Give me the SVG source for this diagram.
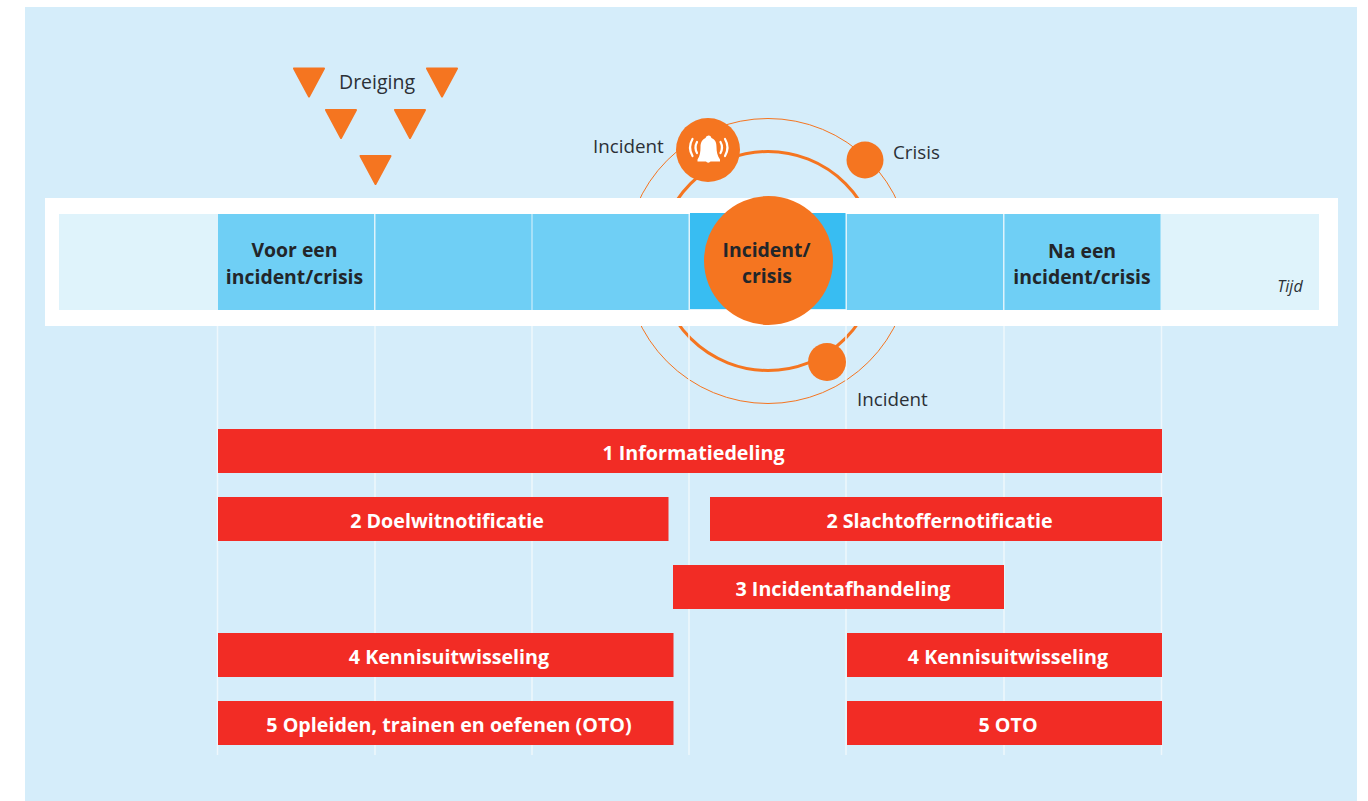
<svg xmlns="http://www.w3.org/2000/svg" width="1368" height="801" viewBox="0 0 1368 801">
<style>
text{font-family:"Open Sans","Noto Sans","Liberation Sans",sans-serif}
.lbl{font-size:18.800px;fill:#2b3036}
.hd{font-size:19.400px;font-weight:700;fill:#22262a;text-anchor:middle}
.bar{fill:#f22c25}
.bt{font-size:19.700px;font-weight:700;fill:#fff;text-anchor:middle}
.grid{stroke:#eef7fc;stroke-width:1.5;fill:none}
.tri{fill:#f57520;stroke:#f57520;stroke-width:2;stroke-linejoin:round}
.dot{fill:#f57520}
.cell{fill:#6fcff5}
</style>
<rect width="1368" height="801" fill="#fff"/>
<rect x="25" y="7" width="1332" height="794" fill="#d5edfa"/>
<g id="connectors" fill="none" stroke="#f57520">
<circle cx="768" cy="261" r="142.500" stroke-width="1"/>
<circle cx="768" cy="261" r="109.500" stroke-width="3"/>
</g>
<g id="timeline">
<path class="grid" d="M217.500 326V755M375 326V755M532 326V755M689 326V755M846 326V755M1004 326V755M1161.500 326V755"/>
<rect x="45" y="198" width="1293" height="128" fill="#fff"/>
<rect x="59" y="214" width="1260" height="96" fill="#dff3fb"/>
<rect class="cell" x="218" y="214" width="156" height="96"/>
<rect class="cell" x="375.500" y="214" width="156" height="96"/>
<rect class="cell" x="532.500" y="214" width="156" height="96"/>
<rect x="690" y="213" width="155.500" height="96" fill="#38bdf2"/>
<rect class="cell" x="847" y="214" width="156" height="96"/>
<rect class="cell" x="1004.500" y="214" width="156" height="96"/>
<text x="1290" y="291.500" text-anchor="middle" font-size="16" font-style="italic" fill="#2b3036">Tijd</text>
</g>
<g id="voor"><text class="hd" x="294.500" y="257">Voor een</text><text class="hd" x="294.500" y="284">incident/crisis</text></g>
<g id="na"><text class="hd" x="1082" y="258">Na een</text><text class="hd" x="1082" y="284">incident/crisis</text></g>
<g id="dreiging">
<path class="tri" d="M294 68.500H324L309 96.500Z"/>
<path class="tri" d="M427 68.500H457L442 96.500Z"/>
<path class="tri" d="M326 110H356L341 138Z"/>
<path class="tri" d="M395 110H425L410 138Z"/>
<path class="tri" d="M360.500 156H390.500L375.500 184Z"/>
<text class="lbl" x="339" y="89" style="font-size:19.500px">Dreiging</text>
</g>
<g id="incident-top">
<circle class="dot" cx="708" cy="150" r="32"/>
<path d="M709 135.500q2 0 2.500 2.500c4 1.500 5 5 5 9 0 5 1 9 3.500 12.500v2h-9.500a2.500 2 0 0 1-4.500 0h-8.500v-2c2.500-3.500 3-7.500 3-12.500 0-4 1.500-7.500 5-9q.5-2.500 3-2.500z" fill="#fff"/>
<path d="M692.500 139q-5 8.500 0 17M697 142q-3 5.500 0 11M725 139q5 8.500 0 17M720.500 142q3 5.500 0 11" fill="none" stroke="#fff" stroke-width="2.200" stroke-linecap="round"/>
<text class="lbl" x="593" y="153">Incident</text>
</g>
<g id="crisis"><circle class="dot" cx="865" cy="160" r="18.500"/><text class="lbl" x="893" y="159">Crisis</text></g>
<g id="incident-bottom"><circle class="dot" cx="827" cy="362" r="19"/><text class="lbl" x="857" y="406">Incident</text></g>
<g id="centre"><circle class="dot" cx="768.500" cy="260.500" r="64.500"/><text class="hd" x="766.500" y="257">Incident/</text><text class="hd" x="767" y="283">crisis</text></g>
<g id="b1"><rect class="bar" x="218" y="429" width="944" height="44"/><text class="bt" x="693.500" y="459.500">1 Informatiedeling</text></g>
<g id="b2a"><rect class="bar" x="218" y="497" width="450.500" height="44"/><text class="bt" x="447" y="527.500">2 Doelwitnotificatie</text></g>
<g id="b2b"><rect class="bar" x="710" y="497" width="452" height="44"/><text class="bt" x="939.500" y="527.500">2 Slachtoffernotificatie</text></g>
<g id="b3"><rect class="bar" x="673" y="565" width="331" height="44"/><text class="bt" x="843" y="595.500">3 Incidentafhandeling</text></g>
<g id="b4a"><rect class="bar" x="218" y="633" width="455.500" height="44"/><text class="bt" x="449" y="663.500">4 Kennisuitwisseling</text></g>
<g id="b4b"><rect class="bar" x="847" y="633" width="315" height="44"/><text class="bt" x="1008" y="663.500">4 Kennisuitwisseling</text></g>
<g id="b5a"><rect class="bar" x="218" y="701" width="455.500" height="44"/><text class="bt" x="449" y="731.500">5 Opleiden, trainen en oefenen (OTO)</text></g>
<g id="b5b"><rect class="bar" x="847" y="701" width="315" height="44"/><text class="bt" x="1008" y="731.500">5 OTO</text></g>
</svg>
